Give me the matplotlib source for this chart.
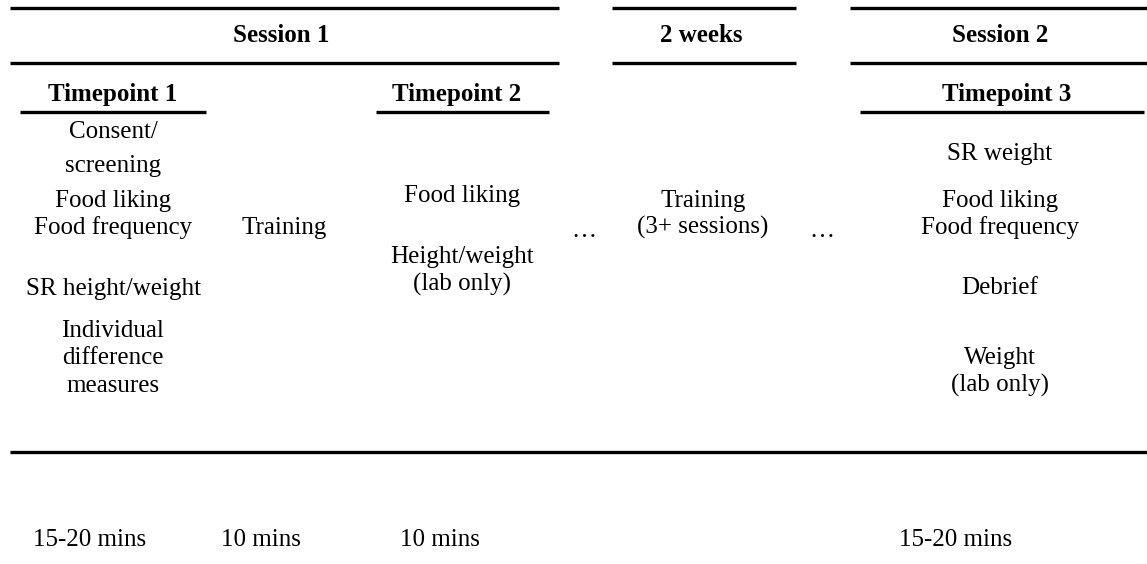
import matplotlib.pyplot as plt

# header groups and the timepoint sub-headers
sessions = ["Session 1", "2 weeks", "Session 2"]
timepoints = ["Timepoint 1", "Timepoint 2", "Timepoint 3"]

# body text per column
col_tp1 = ["Consent/", "screening", "Food liking", "Food frequency",
           "SR height/weight", "Individual", "difference", "measures"]
col_training = ["Training"]
col_tp2 = ["Food liking", "Height/weight", "(lab only)"]
col_gap = ["Training", "(3+ sessions)"]
col_tp3 = ["SR weight", "Food liking", "Food frequency", "Debrief",
           "Weight", "(lab only)"]
durations = ["15-20 mins", "10 mins", "10 mins", "15-20 mins"]

W, H = 1147, 564
plt.rcParams["font.family"] = ["Liberation Serif", "DejaVu Serif"]
fig = plt.figure(figsize=(W / 100, H / 100), dpi=100)
ax = fig.add_axes([0, 0, 1, 1])
ax.set_xlim(0, W)
ax.set_ylim(H, 0)
ax.axis("off")

fs = 18
lw = 2.4

# session header rules
session_spans = [(10, 559), (612, 796), (850, 1147)]
session_x = [281, 701, 1000]
for (x0, x1), x, name in zip(session_spans, session_x, sessions):
    ax.plot([x0, x1], [8, 8], color="black", lw=lw, solid_capstyle="butt")
    ax.plot([x0, x1], [63, 63], color="black", lw=lw, solid_capstyle="butt")
    ax.text(x, 36, name, ha="center", va="center", fontsize=fs,
            fontweight="bold")

# timepoint headers
tp_spans = [(20, 206), (376, 549), (860, 1144)]
tp_x = [113, 457, 1007]
for (x0, x1), x, name in zip(tp_spans, tp_x, timepoints):
    ax.plot([x0, x1], [112, 112], color="black", lw=lw, solid_capstyle="butt")
    ax.text(x, 95, name, ha="center", va="center", fontsize=fs,
            fontweight="bold")


def column(x, labels, ys):
    for lab, y in zip(labels, ys):
        ax.text(x, y, lab, ha="center", va="center", fontsize=fs)


column(113, col_tp1, [132, 166, 201, 228, 289, 331, 358, 386])
column(284, col_training, [228])
column(462, col_tp2, [196, 257, 284])
column(703, col_gap, [201, 227])
column(1000, col_tp3, [154, 201, 228, 288, 358, 385])
ax.text(584, 231, "\u2026", ha="center", va="center", fontsize=fs)
ax.text(822, 231, "\u2026", ha="center", va="center", fontsize=fs)

# bottom rule
ax.plot([10, W], [452, 452], color="black", lw=lw, solid_capstyle="butt")

# durations
for x, lab in zip([90, 261, 440, 956], durations):
    ax.text(x, 540, lab, ha="center", va="center", fontsize=fs)

fig.savefig("out.png", dpi=100)
